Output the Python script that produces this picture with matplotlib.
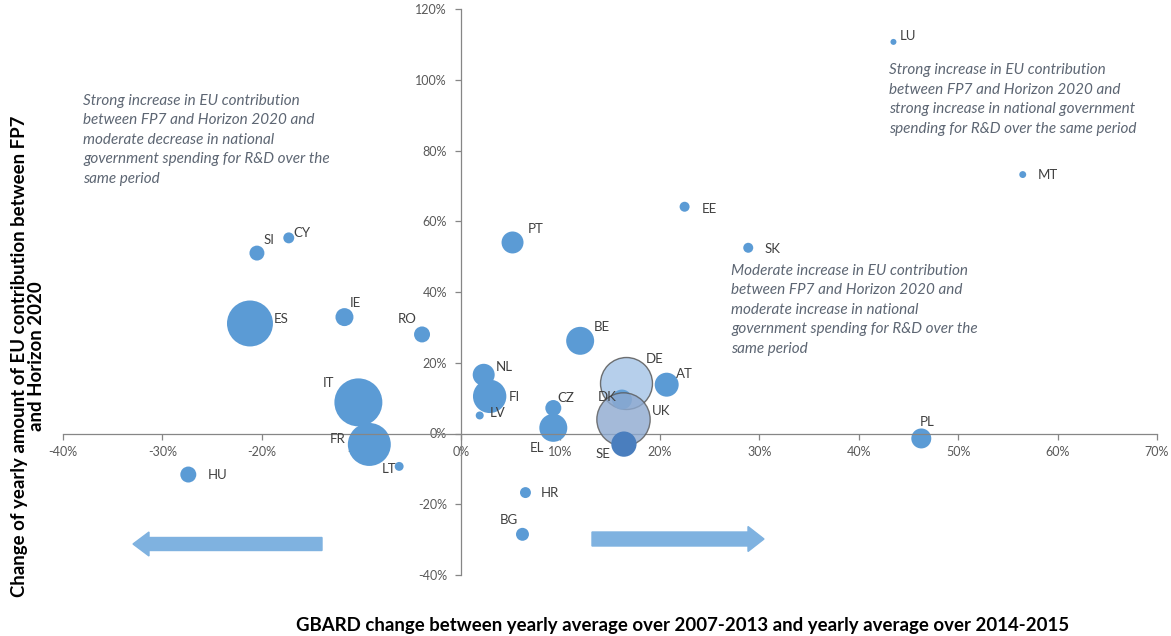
import matplotlib
matplotlib.use("Agg")
import matplotlib.pyplot as plt
from matplotlib.ticker import PercentFormatter
from matplotlib.patches import FancyArrow

plt.rcParams['axes.unicode_minus'] = False
plt.rcParams['font.family'] = ['Lato', 'DejaVu Sans']

# ---------------- data ----------------
countries = ["LU", "MT", "EE", "SK", "PT", "CY", "SI", "ES", "IE", "RO", "BE", "NL",
             "FI", "LV", "IT", "FR", "LT", "HU", "CZ", "EL", "DE", "DK", "UK", "SE",
             "AT", "PL", "HR", "BG"]
gbard_change = [43.5, 56.5, 22.5, 28.9, 5.2, -17.3, -20.5, -21.2, -11.7, -3.9, 12.0, 2.3,
                2.9, 1.9, -10.3, -9.2, -6.2, -27.4, 9.3, 9.3, 16.6, 16.2, 16.3, 16.4,
                20.7, 46.3, 6.5, 6.2]
eu_change = [110.7, 73.2, 64.1, 52.5, 54.0, 55.3, 51.0, 31.1, 32.9, 28.0, 26.2, 16.6,
             10.5, 5.1, 8.8, -3.1, -9.3, -11.6, 7.2, 1.6, 14.4, 9.6, 4.2, -3.0,
             13.8, -1.4, -16.7, -28.5]
# relative weight of each country (bubble area)
weight = [9, 12, 25, 25, 121, 30, 56, 529, 81, 64, 196, 121,
          279, 16, 576, 462, 20, 64, 64, 196, 676, 100, 713, 160,
          144, 100, 30, 42]

x_ticks = [-40, -30, -20, -10, 0, 10, 20, 30, 40, 50, 60, 70]
y_ticks = [-40, -20, 0, 20, 40, 60, 80, 100, 120]

notes = [
    "Strong increase in EU contribution\nbetween FP7 and Horizon 2020 and\nmoderate decrease in national\ngovernment spending for R&D over the\nsame period",
    "Strong increase in EU contribution\nbetween FP7 and Horizon 2020 and\nstrong increase in national government\nspending for R&D over the same period",
    "Moderate increase in EU contribution\nbetween FP7 and Horizon 2020 and\nmoderate increase in national\ngovernment spending for R&D over the\nsame period",
]

# ---------------- layout / style ----------------
W, H = 1171, 636
fig = plt.figure(figsize=(W / 100, H / 100), dpi=100)
ax = fig.add_axes([63 / W, 1 - 575 / H, (1157 - 63) / W, (575 - 9) / H])
ax.set_xlim(-40, 70)
ax.set_ylim(-40, 120)

for s in ["top", "right"]:
    ax.spines[s].set_visible(False)
ax.spines["left"].set_position(("data", 0))
ax.spines["bottom"].set_position(("data", 0))
for s in ["left", "bottom"]:
    ax.spines[s].set_color("#868686")
    ax.spines[s].set_linewidth(0.9)

ax.set_xticks(x_ticks)
ax.set_yticks(y_ticks)
ax.xaxis.set_major_formatter(PercentFormatter(decimals=0))
ax.yaxis.set_major_formatter(PercentFormatter(decimals=0))
ax.tick_params(axis="x", direction="out", length=4, width=0.9, color="#868686",
               labelsize=9, labelcolor="#595959", pad=5)
ax.tick_params(axis="y", direction="out", length=4, width=0.9, color="#868686",
               labelsize=9, labelcolor="#595959", pad=6)

BLUE = "#5B9BD5"
special = {
    "DE": dict(color="#A9C7E8", alpha=0.85, ec="#595959", lw=1.0, z=3),
    "DK": dict(color=BLUE, alpha=0.9, ec="none", lw=0, z=4),
    "UK": dict(color="#8DA9D0", alpha=0.8, ec="#595959", lw=1.0, z=5),
    "SE": dict(color="#4A7EBE", alpha=1.0, ec="none", lw=0, z=6),
}

k = 2.07  # px^2 -> pt^2 conversion for bubble area
for c, xv, yv, w in zip(countries, gbard_change, eu_change, weight):
    st = special.get(c, dict(color=BLUE, alpha=1.0, ec="none", lw=0, z=2))
    ax.scatter([xv], [yv], s=k * w, color=st["color"], alpha=st["alpha"],
               edgecolors=st["ec"], linewidths=st["lw"], zorder=st["z"])

label_offsets = {
    "LU": (6, 6), "MT": (15, 0), "EE": (17, -2), "SK": (16, -1), "PT": (15, 13),
    "CY": (5, 5), "SI": (7, 13), "ES": (24, 4), "IE": (5, 14), "RO": (-24, 15),
    "BE": (14, 14), "NL": (12, 8), "FI": (19, -1), "LV": (10, 2), "IT": (-36, 19),
    "FR": (-40, 5), "LT": (-17, -3), "HU": (19, 0), "CZ": (4, 10), "EL": (-24, -20),
    "DE": (20, 24), "DK": (-24, 3), "UK": (29, 8), "SE": (-28, -10), "AT": (9, 11),
    "PL": (-2, 16), "HR": (15, 0), "BG": (-23, 14),
}
for c, xv, yv in zip(countries, gbard_change, eu_change):
    dx, dy = label_offsets[c]
    ax.annotate(c, (xv, yv), xytext=(dx, dy), textcoords="offset pixels",
                ha="left", va="center", fontsize=9.5, color="#404040", zorder=10)

# notes
note_pos = [(83, 94), (889, 63), (731, 264)]
for txt, (px, py) in zip(notes, note_pos):
    fig.text(px / W, 1 - py / H, txt, ha="left", va="top", fontsize=11,
             style="italic", color="#5d6673", linespacing=1.5)

# axis titles
fig.text(683 / W, 1 - 626 / H,
         "GBARD change between yearly average over 2007-2013 and yearly average over 2014-2015",
         ha="center", va="center", fontsize=13.4, fontweight="bold", color="black")
fig.text(28 / W, 1 - 356 / H,
         "Change of yearly amount of EU contribution between FP7\nand Horizon 2020",
         ha="center", va="center", rotation=90, fontsize=13.4, fontweight="bold",
         color="black", multialignment="center", linespacing=1.05)

# direction arrows
ARROW = "#7FB2E0"
fig.patches.append(FancyArrow(322 / W, 1 - 544 / H, -(322 - 133) / W, 0,
                              width=13 / H, head_width=24 / H, head_length=16 / W,
                              length_includes_head=True, color=ARROW,
                              transform=fig.transFigure, figure=fig))
fig.patches.append(FancyArrow(592 / W, 1 - 539 / H, (764 - 592) / W, 0,
                              width=14 / H, head_width=25 / H, head_length=16 / W,
                              length_includes_head=True, color=ARROW,
                              transform=fig.transFigure, figure=fig))

fig.savefig("out.png", dpi=100)
